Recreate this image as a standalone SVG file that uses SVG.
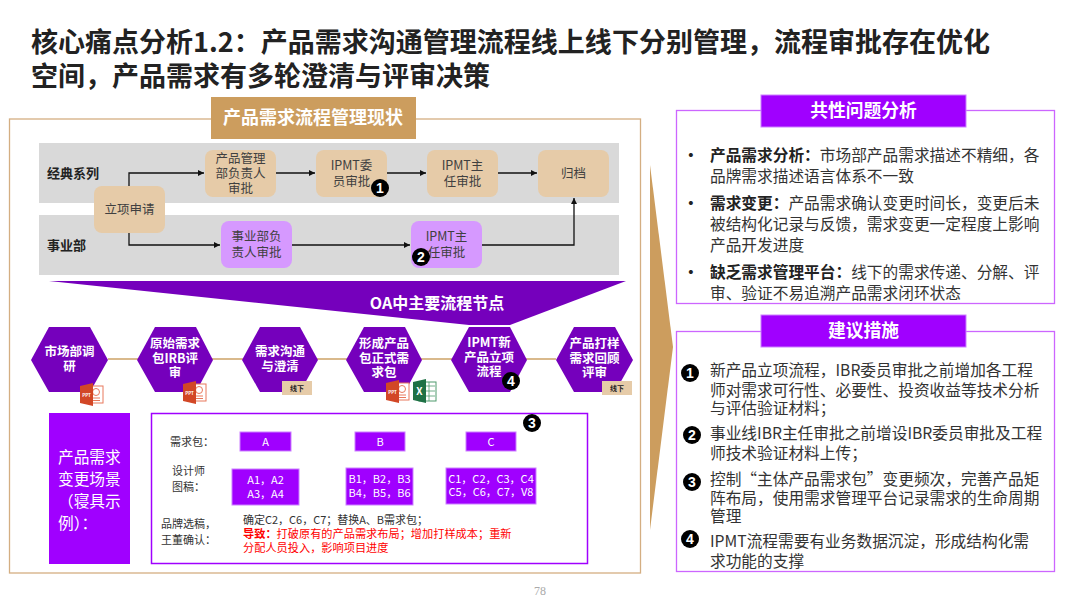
<svg xmlns="http://www.w3.org/2000/svg" width="1080" height="608" viewBox="0 0 1080 608">
<style>
text{font-family:"Noto Sans CJK SC","Noto Sans",sans-serif;fill:#333}
.m{text-anchor:middle}
.t{font-size:27px;font-weight:700;fill:#222}
.n{font-size:12.5px;text-anchor:middle;fill:#404040}
.l{font-size:13px;font-weight:700;fill:#222}
.h{font-size:12.5px;font-weight:700;fill:#fff;text-anchor:middle}
.b{font-size:15.7px;fill:#333}
.bb{font-weight:700;fill:#222}
.s{font-size:11px;fill:#333}
.w{font-size:11px;fill:#fff;text-anchor:middle}
.r{font-size:11.2px;fill:#f00}
.tan{fill:#E6CBA8}
.lil{fill:#D699FF}
.hex{fill:#7500BC}
.gray{fill:#D9D9D9}
.vio{fill:#A000FF;stroke:#CC80FF;stroke-width:1}
.c{fill:#000}
.ct{fill:#fff;font-size:14px;font-weight:700;text-anchor:middle;font-family:"Liberation Sans",sans-serif}
.a{fill:none;stroke:#111;stroke-width:1.3;marker-end:url(#ar)}
.ppt{fill:#D24726}
.tag{fill:#E6CBA8}
.tg{font-size:7px;font-weight:700;text-anchor:middle;fill:#222}
.hd{font-size:17.8px;font-weight:700;fill:#fff;text-anchor:middle}
.sc{font-size:15.7px;fill:#fff}
</style>
<defs>
<marker id="ar" markerWidth="7" markerHeight="7" refX="6" refY="3" orient="auto" markerUnits="userSpaceOnUse"><path d="M0,0L6,3L0,6Z" fill="#111"/></marker>
<g id="pp"><rect x="9" y="3" width="14" height="17" fill="#fff" stroke="#E8795C"/><circle cx="16" cy="9" r="3.5" fill="none" stroke="#E8795C"/><path d="M12,15H20M12,17.5H20" stroke="#E8795C"/><path d="M0,3L13,0V23L0,20Z" class="ppt"/><text x="6.5" y="13.5" font-size="4.5" font-weight="700" text-anchor="middle" style="fill:#fff">PPT</text></g>
</defs>
<rect width="1080" height="608" fill="#fff"/>

<g id="title">
<text class="t"><tspan x="31" y="52" textLength="959">核心痛点分析1.2：产品需求沟通管理流程线上线下分别管理，流程审批存在优化</tspan><tspan x="31" y="86">空间，产品需求有多轮澄清与评审决策</tspan></text>
</g>

<g id="left-panel">
<rect x="9.5" y="119" width="631" height="454" fill="#fff" stroke="#D4AE82" stroke-width="1.3"/>
<rect x="211" y="97" width="205" height="42" fill="#CC9D5E"/>
<text x="313" y="124" class="m" font-size="18" font-weight="700" style="fill:#fff">产品需求流程管理现状</text>
<rect x="39" y="143" width="580" height="60" class="gray"/>
<rect x="39" y="215" width="580" height="60" class="gray"/>
<text x="47" y="178" class="l">经典系列</text>
<text x="47" y="250" class="l">事业部</text>
</g>

<g id="connectors">
<path class="a" d="M129,186V173H204"/>
<path class="a" d="M276,173H315"/>
<path class="a" d="M387,173H426"/>
<path class="a" d="M498,173H537"/>
<path class="a" d="M129,233V245H220"/>
<path class="a" d="M292,245H410"/>
<path class="a" d="M482,245H574V198"/>
<path d="M108,359H556" stroke="#D9B98C" stroke-width="2" fill="none"/>
<path class="a" d="M265,451V469"/>
<path class="a" d="M380,451V468"/>
<path class="a" d="M491,451V468"/>
</g>

<g id="n-lixiang"><rect x="94" y="186" width="71" height="47" rx="8" class="tan"/><text x="129.500" y="214" class="n">立项申请</text></g>
<g id="n-chanpin"><rect x="205" y="150" width="71" height="47" rx="8" class="tan"/><text class="n"><tspan x="240.500" y="163">产品管理</tspan><tspan x="240.500" y="178">部负责人</tspan><tspan x="240.500" y="193">审批</tspan></text></g>
<g id="n-weiyuan"><rect x="316" y="150" width="71" height="47" rx="8" class="tan"/><text class="n"><tspan x="351.500" y="170">IPMT委</tspan><tspan x="351.500" y="186">员审批</tspan></text></g>
<g id="n-zhuren"><rect x="427" y="150" width="71" height="47" rx="8" class="tan"/><text class="n"><tspan x="462.500" y="170">IPMT主</tspan><tspan x="462.500" y="186">任审批</tspan></text></g>
<g id="n-guidang"><rect x="538" y="150" width="71" height="47" rx="8" class="tan"/><text x="573.500" y="178" class="n">归档</text></g>
<g id="n-shiye"><rect x="221" y="221" width="71" height="47" rx="8" class="lil"/><text class="n"><tspan x="256.500" y="241">事业部负</tspan><tspan x="256.500" y="257">责人审批</tspan></text></g>
<g id="n-zhuren2"><rect x="411" y="221" width="71" height="47" rx="8" class="lil"/><text class="n"><tspan x="446.500" y="241">IPMT主</tspan><tspan x="446.500" y="257">任审批</tspan></text></g>
<g id="badge-1"><circle cx="380" cy="188" r="9" class="c"/><text x="380" y="193" class="ct">1</text></g>
<g id="badge-2"><circle cx="421" cy="257" r="9" class="c"/><text x="421" y="262" class="ct">2</text></g>

<g id="oa-banner"><polygon points="49,281 626,281 510,325 469,325" class="hex"/><text x="437" y="309" class="m" font-size="16" font-weight="700" style="fill:#fff">OA中主要流程节点</text></g>

<g id="h1"><polygon points="31,360 49,327 90,327 108,360 90,392 49,392" class="hex"/><text class="h"><tspan x="69.500" y="356">市场部调</tspan><tspan x="69.500" y="371">研</tspan></text></g>
<g id="h2"><polygon points="137,360 155,327 196,327 213,360 196,392 155,392" class="hex"/><text class="h"><tspan x="175" y="348">原始需求</tspan><tspan x="175" y="363">包IRB评</tspan><tspan x="175" y="377">审</tspan></text></g>
<g id="h3"><polygon points="242,360 260,327 300,327 318,360 300,392 260,392" class="hex"/><text class="h"><tspan x="280" y="356">需求沟通</tspan><tspan x="280" y="371">与澄清</tspan></text></g>
<g id="h4"><polygon points="346,360 364,327 405,327 422,360 405,392 364,392" class="hex"/><text class="h"><tspan x="384" y="348">形成产品</tspan><tspan x="384" y="363">包正式需</tspan><tspan x="384" y="377">求包</tspan></text></g>
<g id="h5"><polygon points="451,360 469,327 510,327 527,360 510,392 469,392" class="hex"/><text class="h"><tspan x="489" y="347">IPMT新</tspan><tspan x="489" y="362">产品立项</tspan><tspan x="489" y="376">流程</tspan></text></g>
<g id="h6"><polygon points="556,360 574,327 615,327 633,360 615,392 574,392" class="hex"/><text class="h"><tspan x="594.500" y="348">产品打样</tspan><tspan x="594.500" y="363">需求回顾</tspan><tspan x="594.500" y="377">评审</tspan></text></g>

<g id="icons">
<use href="#pp" x="80" y="383"/>
<use href="#pp" x="183" y="381"/>
<use href="#pp" x="386" y="380"/>
<rect x="282" y="381" width="30" height="14" class="tag"/><text x="297" y="391" class="tg">线下</text>
<rect x="602" y="381" width="30" height="14" class="tag"/><text x="617" y="391" class="tg">线下</text>
<rect x="419" y="382" width="17" height="19" fill="#fff" stroke="#4E9A6C"/>
<path d="M424,386H435M424,391H435M424,396H435M429,382V401" stroke="#4E9A6C" stroke-width=".8"/>
<path d="M413,382L426,379V403L413,400Z" fill="#1E7145"/><text x="419.500" y="395" font-size="10" font-weight="700" text-anchor="middle" style="fill:#fff">X</text>
</g>
<g id="badge-4"><circle cx="511" cy="381" r="9" class="c"/><text x="511" y="386" class="ct">4</text></g>

<g id="scene-label"><rect x="49" y="413" width="81" height="151" fill="#A000FF"/>
<text class="sc"><tspan x="58" y="463">产品需求</tspan><tspan x="58" y="485">变更场景</tspan><tspan x="58" y="507">（寝具示</tspan><tspan x="58" y="529">例）：</tspan></text>
</g>
<g id="scene"><rect x="151.500" y="413.500" width="436" height="150" fill="#fff" stroke="#A000FF" stroke-width="1.500"/>
<text x="170" y="446" class="s">需求包：</text>
<text class="s"><tspan x="172" y="475">设计师</tspan><tspan x="172" y="491">图稿：</tspan></text>
<text class="s"><tspan x="161" y="528">品牌选稿，</tspan><tspan x="161" y="544">王董确认：</tspan></text>
<text class="s"><tspan x="243" y="524" textLength="185">确定C2，C6，C7；替换A、B需求包；</tspan></text>
<text class="r"><tspan x="243" y="538" font-weight="700" style="fill:#f00">导致：</tspan><tspan style="fill:#f00">打破原有的产品需求布局；增加打样成本；重新</tspan><tspan x="243" y="552" style="fill:#f00">分配人员投入，影响项目进度</tspan></text>
</g>
<g id="pkg-a"><rect x="240" y="432" width="51" height="19" class="vio"/><text x="265.500" y="446" class="w">A</text></g>
<g id="pkg-b"><rect x="355" y="432" width="50" height="19" class="vio"/><text x="380" y="446" class="w">B</text></g>
<g id="pkg-c"><rect x="466" y="432" width="50" height="19" class="vio"/><text x="491" y="446" class="w">C</text></g>
<g id="art-a"><rect x="232" y="469" width="67" height="36" class="vio"/><text class="w"><tspan x="265.500" y="484">A1，A2</tspan><tspan x="265.500" y="498">A3，A4</tspan></text></g>
<g id="art-b"><rect x="346" y="468" width="67" height="37" class="vio"/><text class="w"><tspan x="379.500" y="483">B1，B2，B3</tspan><tspan x="379.500" y="497">B4，B5，B6</tspan></text></g>
<g id="art-c"><rect x="446" y="468" width="90" height="36" class="vio"/><text class="w"><tspan x="491" y="483">C1，C2，C3，C4</tspan><tspan x="491" y="496">C5，C6，C7，V8</tspan></text></g>
<g id="badge-3"><circle cx="532" cy="423" r="9" class="c"/><text x="532" y="428" class="ct">3</text></g>

<g id="big-arrow"><polygon points="650,165 673,347 650,530" fill="#CC9D5E"/></g>

<g id="panel-problems">
<rect x="676.500" y="110.500" width="378" height="193" fill="#fff" stroke="#CC66FF" stroke-width="1.300"/>
<rect x="761" y="95" width="205" height="32" class="vio"/>
<text x="863.500" y="117" class="hd">共性问题分析</text>
<text x="683" y="160.500" class="b bb">•</text><text x="683" y="208.500" class="b bb">•</text><text x="683" y="278" class="b bb">•</text>
<text class="b"><tspan x="710" y="160.500" class="bb">产品需求分析：</tspan><tspan>市场部产品需求描述不精细，各</tspan><tspan x="710" y="181.500">品牌需求描述语言体系不一致</tspan></text>
<text class="b"><tspan x="710" y="208.500" class="bb">需求变更：</tspan><tspan>产品需求确认变更时间长，变更后未</tspan><tspan x="710" y="229.500">被结构化记录与反馈，需求变更一定程度上影响</tspan><tspan x="710" y="250.500">产品开发进度</tspan></text>
<text class="b"><tspan x="710" y="278" class="bb">缺乏需求管理平台：</tspan><tspan>线下的需求传递、分解、评</tspan><tspan x="710" y="298.500">审、验证不易追溯产品需求闭环状态</tspan></text>
</g>

<g id="panel-actions">
<rect x="676.500" y="331.500" width="378" height="240" fill="#fff" stroke="#CC66FF" stroke-width="1.300"/>
<rect x="761" y="315" width="205" height="32" class="vio"/>
<text x="863.500" y="337" class="hd">建议措施</text>
<circle cx="690" cy="373" r="9" class="c"/><text x="690" y="378" class="ct">1</text>
<circle cx="692" cy="435" r="9" class="c"/><text x="692" y="440" class="ct">2</text>
<circle cx="692" cy="482" r="9" class="c"/><text x="692" y="487" class="ct">3</text>
<circle cx="690" cy="539" r="9" class="c"/><text x="690" y="544" class="ct">4</text>
<text class="b"><tspan x="710" y="375.500">新产品立项流程，IBR委员审批之前增加各工程</tspan><tspan x="710" y="395.500">师对需求可行性、必要性、投资收益等技术分析</tspan><tspan x="710" y="414">与评估验证材料；</tspan></text>
<text class="b"><tspan x="710" y="438.500">事业线IBR主任审批之前增设IBR委员审批及工程</tspan><tspan x="710" y="458.500">师技术验证材料上传；</tspan></text>
<text class="b"><tspan x="710" y="484.500">控制“主体产品需求包”变更频次，完善产品矩</tspan><tspan x="710" y="503.500">阵布局，使用需求管理平台记录需求的生命周期</tspan><tspan x="710" y="521.500">管理</tspan></text>
<text class="b"><tspan x="710" y="546.500">IPMT流程需要有业务数据沉淀，形成结构化需</tspan><tspan x="710" y="566.500">求功能的支撑</tspan></text>
</g>

<text x="540" y="595" class="m" font-size="12" style="font-family:'Liberation Serif',serif;fill:#aaa">78</text>
</svg>
